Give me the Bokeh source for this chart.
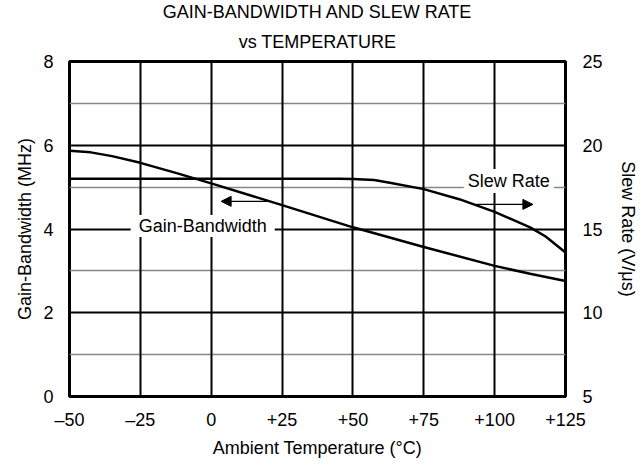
from bokeh.plotting import figure
from bokeh.models import (Range1d, LinearAxis, FixedTicker, Grid, Label, Arrow,
                          NormalHead, Title)
from bokeh.embed import file_html
from bokeh.resources import INLINE

# ---- data ----
temps_gb = [-50, -42.5, -35, -25, -12.5, 0, 25, 50, 75, 100, 112.5, 125]
gain_bw = [5.87, 5.83, 5.74, 5.58, 5.34, 5.09, 4.57, 4.04, 3.57, 3.12, 2.93, 2.76]

temps_sr = [-50, 0, 45, 50, 57.5, 63, 75, 87.5, 100, 112.5, 118, 125]
slew_rate = [18.0, 18.0, 18.0, 17.98, 17.92, 17.76, 17.38, 16.78, 16.02, 15.1, 14.55, 13.6]

x_ticks = [-50, -25, 0, 25, 50, 75, 100, 125]
x_tick_labels = ["–50", "–25", "0", "+25", "+50", "+75", "+100", "+125"]
gb_ticks = [0, 2, 4, 6, 8]
gb_minor_lines = [1, 3, 5, 7]
sr_ticks = [5, 10, 15, 20, 25]

title_line1 = "GAIN-BANDWIDTH AND SLEW RATE"
title_line2 = "vs TEMPERATURE"
x_label = "Ambient Temperature (°C)"
gb_label = "Gain-Bandwidth (MHz)"
sr_label = "Slew Rate (V/μs)"

# annotation anchors (data units)
gb_text_pos = (-3.0, 4.07)
sr_text_pos = (105.0, 17.86)
gb_arrow = (20.0, 3.5, 4.66)      # x_start, x_end, y  (MHz axis)
sr_arrow = (93.5, 113.5, 16.47)   # x_start, x_end, y  (V/us axis)

FONT = "Liberation Sans"
FS = "18px"

p = figure(frame_width=496, frame_height=335, output_backend="svg", toolbar_location=None,
           x_range=Range1d(-50, 125), y_range=Range1d(0, 8),
           min_border_left=69, min_border_right=76, min_border_top=61,
           min_border_bottom=70)
p.extra_y_ranges = {"sr": Range1d(5, 25)}
p.background_fill_color = "white"
p.border_fill_color = "white"
p.outline_line_color = "black"
p.outline_line_width = 3

# grids
p.xgrid.ticker = FixedTicker(ticks=x_ticks)
p.xgrid.grid_line_color = "black"
p.xgrid.grid_line_width = 2
p.xgrid.level = "underlay"
p.ygrid.ticker = FixedTicker(ticks=gb_ticks)
p.ygrid.grid_line_color = "black"
p.ygrid.grid_line_width = 2
p.ygrid.level = "underlay"
gray = Grid(dimension=1, ticker=FixedTicker(ticks=gb_minor_lines),
            grid_line_color="#888888", grid_line_width=1.5, level="image")
p.add_layout(gray)

def style_axis(ax):
    ax.axis_line_color = None
    ax.major_tick_line_color = None
    ax.minor_tick_line_color = None
    ax.major_tick_out = 0
    ax.major_tick_in = 0
    ax.minor_tick_out = 0
    ax.major_label_text_font = FONT
    ax.major_label_text_font_size = FS
    ax.major_label_text_color = "black"
    ax.axis_label_text_font = FONT
    ax.axis_label_text_font_size = FS
    ax.axis_label_text_font_style = "normal"
    ax.axis_label_text_color = "black"

xa = p.xaxis[0]
xa.ticker = FixedTicker(ticks=x_ticks)
xa.major_label_overrides = {t: l for t, l in zip(x_ticks, x_tick_labels)}
xa.axis_label = x_label
style_axis(xa)
xa.major_label_standoff = 13
xa.axis_label_standoff = 5

ya = p.yaxis[0]
ya.ticker = FixedTicker(ticks=gb_ticks)
ya.axis_label = gb_label
style_axis(ya)
ya.major_label_standoff = 16
ya.axis_label_standoff = 5

ra = LinearAxis(y_range_name="sr", ticker=FixedTicker(ticks=sr_ticks), axis_label=sr_label)
style_axis(ra)
ra.major_label_standoff = 17
ra.axis_label_standoff = 12
p.add_layout(ra, "right")

# curves
p.line(temps_gb, gain_bw, line_color="black", line_width=2.5, line_join="round")
p.line(temps_sr, slew_rate, line_color="black", line_width=2.5, line_join="round",
       y_range_name="sr")

# annotations
p.add_layout(Label(x=gb_text_pos[0], y=gb_text_pos[1], text="Gain-Bandwidth",
                   text_align="center", text_baseline="middle", text_font=FONT,
                   text_font_size=FS, text_color="black",
                   background_fill_color="white", padding=dict(x=8, y=1)))
p.add_layout(Label(x=sr_text_pos[0], y=sr_text_pos[1], y_range_name="sr", text="Slew Rate",
                   text_align="center", text_baseline="middle", text_font=FONT,
                   text_font_size=FS, text_color="black",
                   background_fill_color="white", padding=dict(x=4, y=2)))
p.add_layout(Arrow(x_start=gb_arrow[0], x_end=gb_arrow[1], y_start=gb_arrow[2], y_end=gb_arrow[2],
                   line_width=1.2, line_color="black",
                   end=NormalHead(size=10, fill_color="black", line_color="black")))
p.add_layout(Arrow(x_start=sr_arrow[0], x_end=sr_arrow[1], y_start=sr_arrow[2], y_end=sr_arrow[2],
                   y_range_name="sr", line_width=1.2, line_color="black",
                   end=NormalHead(size=10, fill_color="black", line_color="black")))

# two-line title (second line nearest the plot)
p.add_layout(Title(text=title_line2, align="center", text_font=FONT, text_font_size=FS,
                   text_font_style="normal", text_color="black", standoff=20), "above")
p.add_layout(Title(text=title_line1, align="center", text_font=FONT, text_font_size=FS,
                   text_font_style="normal", text_color="black", standoff=-5), "above")

open("out.html", "w").write(file_html(p, INLINE))
